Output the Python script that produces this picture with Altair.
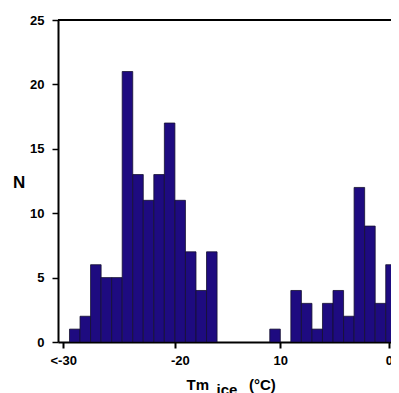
import altair as alt
import pandas as pd

# Histogram of Tm ice (1 °C bins, start of each bin) and counts N
bin_start = list(range(-30, 1))
counts = [1, 2, 6, 5, 5, 21, 13, 11, 13, 17, 11, 7, 4, 7,
          0, 0, 0, 0, 0, 1, 0,
          4, 3, 1, 3, 4, 2, 12, 9, 3, 6]

x_tick_values = [-30.6, -20, -10, 0.3]
x_tick_labels = ["<-30", "-20", "10", "0"]
y_tick_values = [0, 5, 10, 15, 20, 25]

df = pd.DataFrame({"start": bin_start, "n": counts})
df["end"] = df["start"] + 1
df["base"] = 0
df = df[df["n"] > 0]

FONT = "Liberation Sans"
W, H = 333, 322

label_expr = " : ".join(
    f"datum.value < {v + 1} ? '{l}'" for v, l in zip(x_tick_values[:-1], x_tick_labels[:-1])
) + f" : '{x_tick_labels[-1]}'"

xscale = alt.Scale(domain=[-31.09, 0.5], nice=False, zero=False)
yscale = alt.Scale(domain=[0, 25], nice=False)

bars = alt.Chart(df).mark_rect(
    fill="#1e0b80", stroke="#151030", strokeWidth=0.8, clip=True
).encode(
    x=alt.X("start:Q", scale=xscale, axis=alt.Axis(
        values=x_tick_values, labelExpr=label_expr, title=None, grid=False,
        domainColor="black", domainWidth=2, tickColor="black", tickWidth=2,
        tickSize=6, labelFont=FONT, labelFontSize=13, labelFontWeight="bold",
        labelColor="black", labelPadding=6, labelFlush=False, labelOverlap=False,
        labelBound=False,
        labelOffset=alt.ConditionalAxisNumber(
            condition={"test": "datum.value == -20", "value": 5}, value=0),
    )),
    x2="end:Q",
    y=alt.Y("n:Q", scale=yscale, axis=alt.Axis(
        values=y_tick_values, title=None, grid=False,
        domainColor="black", domainWidth=2, tickColor="black", tickWidth=1.5,
        tickSize=6, labelFont=FONT, labelFontSize=13, labelFontWeight="bold",
        labelColor="black", labelPadding=8,
    )),
    y2="base:Q",
)

top_line = alt.Chart(pd.DataFrame({"y": [25]})).mark_rule(
    color="black", strokeWidth=2
).encode(y=alt.Y("y:Q", scale=yscale), x=alt.value(0), x2=alt.value(W + 20))

def txt(t, x, y, size=15):
    return alt.Chart(pd.DataFrame({"t": [t]})).mark_text(
        font=FONT, fontSize=size, fontWeight="bold", color="black",
        align="left", baseline="alphabetic"
    ).encode(text="t:N", x=alt.value(x), y=alt.value(y))

n_title = txt("N", -45, 168, 17)
t1 = txt("Tm", 128.5, 370)
t2 = txt("ice", 158.5, 375)
t3 = txt("(°C)", 191, 370)

chart = alt.layer(bars, top_line, n_title, t1, t2, t3).properties(
    width=W, height=H,
    autosize=alt.AutoSizeParams(type="none"),
    padding={"left": 50, "top": 12, "right": 0, "bottom": 51},
).configure_view(stroke=None)

chart.save("out.html", embed_options={"renderer": "svg", "actions": False})
